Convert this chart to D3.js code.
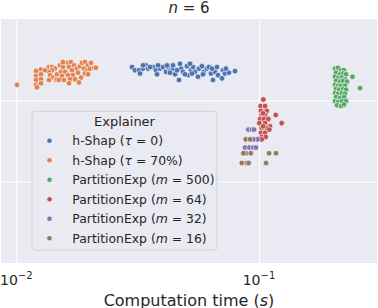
<!DOCTYPE html>
<html>
<head>
<meta charset="utf-8">
<script src="https://cdn.jsdelivr.net/npm/d3@7"></script>
<style>
  body { margin: 0; background: #fff; }
  svg { display: block; font-family: "DejaVu Sans", sans-serif; }
</style>
</head>
<body>
<svg id="chart" width="378" height="308"></svg>
<script>
// Legend labels: name, italic symbol, value
const explainerNames = ["h-Shap", "h-Shap", "PartitionExp", "PartitionExp", "PartitionExp", "PartitionExp"];
const paramSymbols = ["τ", "τ", "m", "m", "m", "m"];
const paramValues = ["0", "70%", "500", "64", "32", "16"];
const colors = ["#4c72b0", "#dd8452", "#55a868", "#c44e52", "#8172b3", "#937860"];

const xTicks = [0.01, 0.1];
const xTickExponents = ["−2", "−1"];
const yGrid = [1, 2];

// h-Shap (tau = 0): computation time (s) and y position
const timeH0 = [0.02997, 0.03084, 0.03203, 0.03327, 0.03423, 0.03489, 0.03658, 0.03764, 0.03800, 0.03909,
  0.04022, 0.04138, 0.04217, 0.04298, 0.04422, 0.04507, 0.04681, 0.04771, 0.04863, 0.05051,
  0.05099, 0.05246, 0.05347, 0.05449, 0.05606, 0.05659, 0.05823, 0.05934, 0.06105, 0.06222,
  0.06342, 0.06463, 0.06587, 0.06777, 0.07039, 0.07106, 0.07242, 0.07522, 0.07964, 0.03327,
  0.04177, 0.04422, 0.03555, 0.03836, 0.04593, 0.04956, 0.05296, 0.05878, 0.06402, 0.06713,
  0.07311, 0.04298, 0.03234, 0.05197, 0.04726];
const yH0 = [2.41, 2.37, 2.37, 2.39, 2.43, 2.39, 2.41, 2.37, 2.32, 2.39,
  2.41, 2.35, 2.41, 2.36, 2.39, 2.32, 2.25, 2.39, 2.35, 2.42,
  2.31, 2.37, 2.41, 2.35, 2.29, 2.39, 2.42, 2.35, 2.39, 2.41,
  2.33, 2.25, 2.35, 2.31, 2.27, 2.37, 2.33, 2.34, 2.36, 2.43,
  2.43, 2.43, 2.41, 2.43, 2.37, 2.32, 2.33, 2.32, 2.39, 2.41,
  2.39, 2.34, 2.33, 2.45, 2.45];

// h-Shap (tau = 70%)
const timeH70 = [0.01007, 0.01206, 0.01206, 0.01206, 0.01206, 0.01217, 0.01264, 0.01264, 0.01264, 0.01264,
  0.01364, 0.01403, 0.01444, 0.01403, 0.01364, 0.01377, 0.01416, 0.01364, 0.01457, 0.01471,
  0.01471, 0.01514, 0.01557, 0.01528, 0.01587, 0.01543, 0.01499, 0.01572, 0.01633, 0.01680,
  0.01729, 0.01649, 0.01696, 0.01633, 0.01712, 0.01665, 0.01746, 0.01649, 0.01779, 0.01830,
  0.01796, 0.01848, 0.01813, 0.01865, 0.01919, 0.01974, 0.02031, 0.01901, 0.01956, 0.02012,
  0.01919, 0.01974, 0.02089, 0.02129, 0.01557, 0.01313];
const yH70 = [2.19, 2.36, 2.30, 2.25, 2.19, 2.16, 2.38, 2.32, 2.26, 2.21,
  2.41, 2.41, 2.39, 2.37, 2.35, 2.31, 2.28, 2.25, 2.25, 2.32,
  2.26, 2.43, 2.41, 2.35, 2.35, 2.30, 2.25, 2.25, 2.46, 2.47,
  2.43, 2.41, 2.37, 2.31, 2.31, 2.26, 2.26, 2.21, 2.39, 2.42,
  2.34, 2.28, 2.22, 2.46, 2.47, 2.43, 2.46, 2.39, 2.37, 2.39,
  2.33, 2.32, 2.40, 2.40, 2.47, 2.37];

// PartitionExp (m = 500)
const timeP500 = [0.2057, 0.2116, 0.2177, 0.2240, 0.2076, 0.2157, 0.2219, 0.2283, 0.2057, 0.2116,
  0.2198, 0.2261, 0.2076, 0.2157, 0.2219, 0.2304, 0.2057, 0.2116, 0.2177, 0.2261,
  0.2076, 0.2136, 0.2219, 0.2283, 0.2057, 0.2116, 0.2198, 0.2261, 0.2076, 0.2157,
  0.2240, 0.2057, 0.2116, 0.2198, 0.2283, 0.2096, 0.2177, 0.2240, 0.2428, 0.2607];
const yP500 = [2.39, 2.40, 2.37, 2.37, 2.34, 2.32, 2.33, 2.32, 2.29, 2.27,
  2.28, 2.26, 2.24, 2.23, 2.24, 2.23, 2.19, 2.18, 2.18, 2.18,
  2.14, 2.13, 2.14, 2.13, 2.09, 2.08, 2.09, 2.08, 2.04, 2.03,
  2.04, 1.99, 1.98, 1.99, 1.99, 1.94, 1.93, 1.95, 2.29, 2.15];

// PartitionExp (m = 64)
const timeP64 = [0.1042, 0.1016, 0.1059, 0.1019, 0.1076, 0.1026, 0.1059, 0.1172, 0.1010, 0.1049,
  0.1093, 0.1240, 0.1003, 0.1059, 0.1110, 0.1026, 0.1076, 0.1103, 0.1019, 0.1059,
  0.1026, 0.1066, 0.1026, 0.1039, 0.1039];
const yP64 = [2.01, 1.93, 1.93, 1.87, 1.87, 1.82, 1.82, 1.82, 1.77, 1.77,
  1.77, 1.72, 1.72, 1.72, 1.68, 1.66, 1.66, 1.64, 1.60, 1.60,
  1.55, 1.55, 1.52, 1.84, 1.68];

// PartitionExp (m = 32)
const timeP32 = [0.0904, 0.0935, 0.0954, 0.0963, 0.0985, 0.0947, 0.0876, 0.0913, 0.0947, 0.0972];
const yP32 = [1.64, 1.64, 1.64, 1.52, 1.52, 1.52, 1.42, 1.42, 1.42, 1.42];

// PartitionExp (m = 16)
const timeP16 = [0.0882, 0.0919, 0.0884, 0.0925, 0.0863, 0.1100, 0.1175, 0.0850, 0.0890, 0.0906, 0.1069];
const yP16 = [1.52, 1.52, 1.35, 1.35, 1.35, 1.35, 1.35, 1.23, 1.23, 1.23, 1.23];

const seriesTimes = [timeH0, timeH70, timeP500, timeP64, timeP32, timeP16];
const seriesYs = [yH0, yH70, yP500, yP64, yP32, yP16];

const W = 378, H = 308;
const margin = { top: 19, right: 1, bottom: 45, left: 1 };
const width = W - margin.left - margin.right;
const height = H - margin.top - margin.bottom;

const svg = d3.select("#chart");

const g = svg.append("g")
  .attr("transform", `translate(${margin.left},${margin.top})`);

const x = d3.scaleLog().domain([0.00865, 0.3063]).range([0, width]);
const y = d3.scaleLinear().domain([0, 3]).range([height, 0]);

// background
g.append("rect")
  .attr("width", width)
  .attr("height", height)
  .attr("fill", "#eaeaf2");

// grid lines
const xGrid = g.append("g")
  .call(d3.axisBottom(x).tickValues(xTicks).tickSize(height).tickFormat(""));
xGrid.select(".domain").remove();
xGrid.selectAll("line").attr("stroke", "#fff").attr("stroke-width", 1);

const yGridG = g.append("g")
  .call(d3.axisLeft(y).tickValues(yGrid).tickSize(-width).tickFormat(""));
yGridG.select(".domain").remove();
yGridG.selectAll("line").attr("stroke", "#fff").attr("stroke-width", 1);

// points
const points = g.append("g");
seriesTimes.forEach((times, i) => {
  points.append("g")
    .selectAll("circle")
    .data(times.map((t, j) => ({ t: t, v: seriesYs[i][j] })))
    .enter()
    .append("circle")
    .attr("cx", d => x(d.t))
    .attr("cy", d => y(d.v))
    .attr("r", 2.8)
    .attr("fill", colors[i])
    .attr("stroke", "#fff")
    .attr("stroke-width", 0.6);
});

// tick labels 10^-2, 10^-1
const tickLabels = g.append("g")
  .selectAll("text")
  .data(xTicks)
  .enter()
  .append("text")
  .attr("x", d => x(d))
  .attr("y", height + 21.5)
  .attr("text-anchor", "middle")
  .attr("font-size", 14)
  .attr("fill", "#262626");
tickLabels.append("tspan").text("10");
tickLabels.append("tspan")
  .attr("dy", -6)
  .attr("font-size", 10)
  .text((d, i) => xTickExponents[i]);

// axis label
const xLabel = svg.append("text")
  .attr("x", margin.left + width / 2)
  .attr("y", 305.5)
  .attr("text-anchor", "middle")
  .attr("font-size", 16)
  .attr("fill", "#262626");
xLabel.append("tspan").text("Computation time (");
xLabel.append("tspan").attr("font-style", "italic").text("s");
xLabel.append("tspan").text(")");

// title
const title = svg.append("text")
  .attr("x", margin.left + width / 2)
  .attr("y", 13)
  .attr("text-anchor", "middle")
  .attr("font-size", 15)
  .attr("fill", "#262626");
title.append("tspan").attr("font-style", "italic").text("n");
title.append("tspan").text(" = 6");

// legend
const legend = svg.append("g").attr("transform", "translate(32,111.3)");
legend.append("rect")
  .attr("width", 185)
  .attr("height", 138.7)
  .attr("rx", 3)
  .attr("fill", "#eaeaf2")
  .attr("fill-opacity", 0.8)
  .attr("stroke", "#cccccc")
  .attr("stroke-width", 0.8);
legend.append("text")
  .attr("x", 92.5)
  .attr("y", 14.7)
  .attr("text-anchor", "middle")
  .attr("font-size", 13)
  .attr("fill", "#262626")
  .text("Explainer");

const entries = legend.selectAll(".entry")
  .data(explainerNames)
  .enter()
  .append("g")
  .attr("class", "entry")
  .attr("transform", (d, i) => `translate(0,${33.7 + i * 19.5})`);
entries.append("circle")
  .attr("cx", 17.5)
  .attr("cy", -4.2)
  .attr("r", 2.3)
  .attr("fill", (d, i) => colors[i]);
const entryText = entries.append("text")
  .attr("x", 40.3)
  .attr("y", 0)
  .attr("font-size", 12.4)
  .attr("fill", "#262626");
entryText.append("tspan").text(d => d + " (");
entryText.append("tspan").attr("font-style", "italic").text((d, i) => paramSymbols[i]);
entryText.append("tspan").text((d, i) => " = " + paramValues[i] + ")");
</script>
</body>
</html>
